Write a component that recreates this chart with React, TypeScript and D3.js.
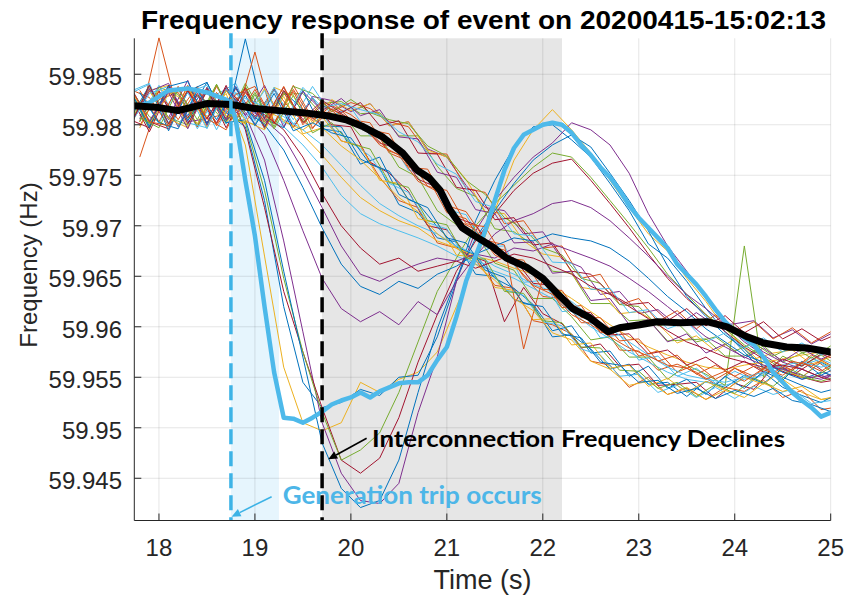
import React from "react";
import * as d3 from "d3";

const W = 851;
const H = 607;
const PLOT = { left: 134.3, right: 830.7, top: 38.3, bottom: 520.5 };
const X_DOMAIN = [17.743, 25];
const Y_DOMAIN = [59.94082, 59.98856];

const xTicks = [18, 19, 20, 21, 22, 23, 24, 25];
const yTicks = [59.945, 59.95, 59.955, 59.96, 59.965, 59.97, 59.975, 59.98, 59.985];
const yTickLabels = ["59.945", "59.95", "59.955", "59.96", "59.965", "59.97", "59.975", "59.98", "59.985"];

const TITLE = "Frequency response of event on 20200415-15:02:13";
const X_LABEL = "Time (s)";
const Y_LABEL = "Frequency (Hz)";

// shaded windows (s)
const tripWindow = [18.75, 19.25];
const declineWindow = [19.7, 22.2];
const tripTime = 18.75;
const declineTime = 19.7;

// two interleaved sampling grids of the PMU traces (s)
const TA = [17.7, 17.9, 18.1, 18.3, 18.5, 18.7, 18.9, 19.1, 19.3, 19.5, 19.7, 19.9, 20.1, 20.3, 20.5, 20.7, 20.9, 21.1, 21.3, 21.5, 21.7, 21.9, 22.1, 22.3, 22.5, 22.7, 22.9, 23.1, 23.3, 23.5, 23.7, 23.9, 24.1, 24.3, 24.5, 24.7, 24.9, 25.1];
const TB = [17.8, 18.0, 18.2, 18.4, 18.6, 18.8, 19.0, 19.2, 19.4, 19.6, 19.8, 20.0, 20.2, 20.4, 20.6, 20.8, 21.0, 21.2, 21.4, 21.6, 21.8, 22.0, 22.2, 22.4, 22.6, 22.8, 23.0, 23.2, 23.4, 23.6, 23.8, 24.0, 24.2, 24.4, 24.6, 24.8, 25.0, 25.2];

// early-dropping traces (grid TA)
const A1 = [59.9806, 59.9834, 59.9801, 59.9838, 59.9808, 59.9831, 59.978, 59.967, 59.956, 59.9505, 59.9497, 59.9505, 59.9545, 59.9535, 59.9548, 59.9555, 59.9575, 59.962, 59.9665, 59.9715, 59.9765, 59.9795, 59.9815, 59.9795, 59.9772, 59.9745, 59.9718, 59.9692, 59.9675, 59.9648, 59.9625, 59.9598, 59.958, 59.9562, 59.9548, 59.9535, 59.9528, 59.953];
const A2 = [59.9833, 59.9802, 59.9837, 59.9804, 59.9835, 59.9812, 59.9798, 59.9725, 59.962, 59.9545, 59.952, 59.9525, 59.9538, 59.9532, 59.955, 59.9552, 59.959, 59.9645, 59.9705, 59.9745, 59.9778, 59.9798, 59.98, 59.9785, 59.9768, 59.9742, 59.9715, 59.9682, 59.9668, 59.9645, 59.9618, 59.9595, 59.9575, 59.9555, 59.954, 59.9532, 59.9525, 59.9535];
const A3 = [59.9799, 59.9836, 59.9805, 59.9833, 59.9802, 59.9834, 59.981, 59.9765, 59.9685, 59.9595, 59.9505, 59.9455, 59.9428, 59.9425, 59.9445, 59.9515, 59.957, 59.9645, 59.9695, 59.9725, 59.9748, 59.9768, 59.9782, 59.9802, 59.9795, 59.978, 59.9752, 59.9712, 59.968, 59.9655, 59.9628, 59.9602, 59.9585, 59.9572, 59.956, 59.9548, 59.9552, 59.9545];
const A4 = [59.9837, 59.9803, 59.9796, 59.9834, 59.9801, 59.9839, 59.9795, 59.9718, 59.9635, 59.9575, 59.952, 59.9468, 59.9455, 59.947, 59.951, 59.9565, 59.9612, 59.9655, 59.9685, 59.9712, 59.9735, 59.9752, 59.9762, 59.9766, 59.9745, 59.9722, 59.9698, 59.9672, 59.9648, 59.9628, 59.9612, 59.9595, 59.958, 59.9568, 59.9555, 59.955, 59.9545, 59.9548];
const A5 = [59.9802, 59.9838, 59.9807, 59.98, 59.9836, 59.9808, 59.9802, 59.9735, 59.9648, 59.9575, 59.9515, 59.9468, 59.9478, 59.9495, 59.9535, 59.9585, 59.9635, 59.9668, 59.97, 59.9722, 59.974, 59.9758, 59.9772, 59.9768, 59.9748, 59.9725, 59.9702, 59.9678, 59.9652, 59.9632, 59.9612, 59.9598, 59.9582, 59.957, 59.9558, 59.955, 59.9546, 59.9552];
const A6 = [59.9834, 59.9799, 59.9839, 59.9804, 59.9833, 59.9802, 59.9805, 59.9745, 59.9655, 59.957, 59.9485, 59.944, 59.9421, 59.9428, 59.9468, 59.9535, 59.9598, 59.9648, 59.9688, 59.9715, 59.9742, 59.9765, 59.978, 59.979, 59.9778, 59.9752, 59.9725, 59.9695, 59.966, 59.963, 59.961, 59.9592, 59.9578, 59.956, 59.955, 59.9542, 59.9535, 59.954];
const A7 = [59.98, 59.9833, 59.9841, 59.9803, 59.9806, 59.9837, 59.9812, 59.979, 59.9745, 59.9695, 59.9648, 59.9618, 59.9605, 59.9615, 59.9602, 59.9625, 59.9612, 59.9645, 59.967, 59.9692, 59.9705, 59.9712, 59.9722, 59.9725, 59.9718, 59.9705, 59.9688, 59.967, 59.965, 59.9632, 59.9618, 59.9602, 59.9588, 59.9575, 59.9565, 59.9558, 59.955, 59.9555];
const A8 = [59.9835, 59.9797, 59.9838, 59.9843, 59.9801, 59.9834, 59.9815, 59.98, 59.9775, 59.9738, 59.9698, 59.9662, 59.964, 59.9632, 59.9645, 59.9638, 59.9652, 59.966, 59.9672, 59.968, 59.9688, 59.9685, 59.9692, 59.9688, 59.9685, 59.9678, 59.9665, 59.9648, 59.963, 59.9615, 59.9598, 59.9585, 59.9572, 59.9565, 59.9555, 59.9548, 59.9555, 59.955];
const A9 = [59.9838, 59.9804, 59.9832, 59.9796, 59.9837, 59.9805, 59.9818, 59.9805, 59.9788, 59.9755, 59.9718, 59.968, 59.9652, 59.9645, 59.9655, 59.9662, 59.9668, 59.9665, 59.9672, 59.9668, 59.9678, 59.9675, 59.9682, 59.9675, 59.9668, 59.966, 59.9648, 59.9635, 59.962, 59.9605, 59.959, 59.958, 59.957, 59.9562, 59.9558, 59.9552, 59.9548, 59.9555];
const A10 = [59.9799, 59.9839, 59.9801, 59.9834, 59.9806, 59.9837, 59.9817, 59.981, 59.9795, 59.9768, 59.9732, 59.97, 59.9678, 59.9662, 59.9668, 59.9655, 59.966, 59.9665, 59.9658, 59.9665, 59.9672, 59.9668, 59.966, 59.9652, 59.964, 59.9632, 59.962, 59.9608, 59.9596, 59.9585, 59.9578, 59.957, 59.9565, 59.956, 59.9562, 59.9558, 59.955, 59.9545];
// fanning traces (grid TA)
const F1 = [59.9833, 59.9841, 59.9798, 59.9832, 59.9839, 59.9801, 59.9822, 59.9812, 59.9798, 59.978, 59.9758, 59.973, 59.9712, 59.9702, 59.9695, 59.9688, 59.968, 59.967, 59.9662, 59.9655, 59.9648, 59.9638, 59.9628, 59.9615, 59.96, 59.9588, 59.9575, 59.9565, 59.9555, 59.9548, 59.9545, 59.9542, 59.9548, 59.9552, 59.956, 59.9562, 59.9568, 59.956];
const F2 = [59.9801, 59.9834, 59.9839, 59.9798, 59.9833, 59.9803, 59.982, 59.9815, 59.9805, 59.979, 59.977, 59.9748, 59.9728, 59.9715, 59.9705, 59.9698, 59.9685, 59.9678, 59.967, 59.9665, 59.9658, 59.9652, 59.964, 59.9628, 59.9615, 59.9602, 59.959, 59.958, 59.9572, 59.9565, 59.956, 59.9558, 59.9562, 59.9565, 59.9568, 59.9572, 59.9575, 59.9568];
const F3 = [59.98, 59.9831, 59.9838, 59.9802, 59.9797, 59.9836, 59.9826, 59.9818, 59.9808, 59.9795, 59.978, 59.976, 59.974, 59.9722, 59.971, 59.97, 59.9692, 59.968, 59.9672, 59.966, 59.9652, 59.9642, 59.9635, 59.9625, 59.961, 59.9598, 59.9585, 59.9572, 59.956, 59.9552, 59.9548, 59.9545, 59.955, 59.9555, 59.9562, 59.9565, 59.956, 59.9565];
// main band of traces (odd on grid TA, even on grid TB)
const B1 = [59.9831, 59.9801, 59.9836, 59.9809, 59.9842, 59.9804, 59.9829, 59.9797, 59.9833, 59.9815, 59.9799, 59.9798, 59.9766, 59.9757, 59.9721, 59.9713, 59.9688, 59.9684, 59.9652, 59.965, 59.9627, 59.9621, 59.959, 59.9592, 59.9578, 59.9558, 59.9563, 59.9543, 59.9545, 59.9531, 59.9546, 59.954, 59.9552, 59.9544, 59.9559, 59.955, 59.9565, 59.9555];
const B2 = [59.9803, 59.9886, 59.9812, 59.9838, 59.9799, 59.9827, 59.9806, 59.9835, 59.9812, 59.9796, 59.9823, 59.9805, 59.9802, 59.9772, 59.9764, 59.9748, 59.9713, 59.9707, 59.968, 59.9676, 59.965, 59.963, 59.9628, 59.9604, 59.9604, 59.9577, 59.9576, 59.9557, 59.9563, 59.9555, 59.9543, 59.9559, 59.9548, 59.9562, 59.9557, 59.957, 59.9556, 59.9569];
const B3 = [59.9836, 59.9808, 59.9798, 59.9834, 59.9823, 59.9801, 59.9841, 59.9807, 59.9832, 59.9803, 59.9821, 59.9823, 59.9811, 59.9812, 59.9789, 59.9789, 59.9759, 59.9737, 59.9729, 59.9697, 59.9694, 59.9681, 59.9655, 59.9653, 59.9623, 59.9623, 59.9606, 59.9607, 59.9586, 59.9587, 59.9588, 59.9571, 59.9571, 59.9581, 59.9565, 59.9574, 59.9579, 59.9564];
const B4 = [59.9809, 59.9834, 59.9798, 59.9829, 59.9802, 59.9838, 59.9805, 59.9836, 59.9797, 59.9828, 59.9824, 59.9813, 59.9821, 59.9799, 59.9803, 59.9776, 59.9768, 59.974, 59.9718, 59.9715, 59.9692, 59.9694, 59.9667, 59.9659, 59.9632, 59.9635, 59.9613, 59.9617, 59.9601, 59.9614, 59.9601, 59.9603, 59.9606, 59.9589, 59.9597, 59.9583, 59.9593, 59.9592];
const B5 = [59.9835, 59.9827, 59.9799, 59.9839, 59.9806, 59.9811, 59.9837, 59.9796, 59.9831, 59.9808, 59.9812, 59.9784, 59.9779, 59.9748, 59.9725, 59.9718, 59.9683, 59.9678, 59.9666, 59.9641, 59.9638, 59.9606, 59.9602, 59.9593, 59.9566, 59.9562, 59.954, 59.955, 59.9533, 59.9539, 59.9528, 59.954, 59.9536, 59.9547, 59.953, 59.9537, 59.9518, 59.9521];
const B6 = [59.9806, 59.9833, 59.9799, 59.9831, 59.9801, 59.9836, 59.9808, 59.9835, 59.9797, 59.9826, 59.98, 59.9798, 59.9763, 59.9752, 59.9734, 59.97, 59.9696, 59.9672, 59.9665, 59.9605, 59.9639, 59.9613, 59.9603, 59.9579, 59.9583, 59.9561, 59.9563, 59.9542, 59.9543, 59.9545, 59.9529, 59.9544, 59.9538, 59.956, 59.9552, 59.9564, 59.9551, 59.9562];
const B7 = [59.9833, 59.9796, 59.9837, 59.9806, 59.9834, 59.9803, 59.9838, 59.9801, 59.983, 59.9831, 59.981, 59.9811, 59.9789, 59.9789, 59.9758, 59.9748, 59.9715, 59.9701, 59.9693, 59.9663, 59.9656, 59.9628, 59.9628, 59.961, 59.9587, 59.959, 59.957, 59.957, 59.9548, 59.9562, 59.9553, 59.9542, 59.968, 59.955, 59.9571, 59.9561, 59.9572, 59.956];
const B8 = [59.9797, 59.9835, 59.9828, 59.9801, 59.9839, 59.9806, 59.98, 59.9837, 59.9829, 59.9802, 59.9825, 59.9814, 59.9821, 59.9799, 59.9803, 59.9775, 59.9768, 59.9746, 59.9714, 59.9712, 59.9685, 59.9672, 59.9669, 59.9639, 59.9636, 59.9613, 59.9615, 59.9603, 59.9584, 59.9591, 59.9576, 59.9588, 59.9568, 59.9574, 59.9577, 59.9563, 59.957, 59.958];
const B9 = [59.9806, 59.9839, 59.9794, 59.9833, 59.9842, 59.9802, 59.9885, 59.9806, 59.9797, 59.9834, 59.9796, 59.9793, 59.9761, 59.9768, 59.9731, 59.9722, 59.9699, 59.9679, 59.9671, 59.9648, 59.9638, 59.9622, 59.9596, 59.9601, 59.9574, 59.9576, 59.9551, 59.9561, 59.9539, 59.9548, 59.9533, 59.9551, 59.9539, 59.9556, 59.9547, 59.9566, 59.9552, 59.9561];
const B10 = [59.9832, 59.9801, 59.9837, 59.9796, 59.983, 59.9841, 59.98, 59.9834, 59.9805, 59.9838, 59.9809, 59.9817, 59.9789, 59.9786, 59.9755, 59.9751, 59.9716, 59.9711, 59.9679, 59.968, 59.9644, 59.9646, 59.9615, 59.9617, 59.9589, 59.9592, 59.9567, 59.9571, 59.9551, 59.9559, 59.9544, 59.9556, 59.9547, 59.9562, 59.9553, 59.957, 59.9558, 59.9571];
const B11 = [59.9801, 59.9835, 59.9807, 59.9844, 59.9799, 59.9836, 59.9809, 59.9839, 59.9798, 59.9833, 59.9814, 59.9826, 59.9809, 59.9815, 59.9788, 59.9786, 59.9753, 59.9748, 59.9716, 59.9712, 59.9683, 59.9684, 59.9653, 59.9655, 59.9626, 59.9628, 59.9602, 59.9607, 59.9585, 59.9593, 59.9574, 59.9583, 59.9569, 59.9579, 59.9566, 59.9578, 59.9568, 59.9576];
const B12 = [59.9768, 59.9825, 59.9832, 59.9798, 59.9838, 59.9805, 59.9835, 59.9801, 59.9839, 59.9806, 59.9813, 59.9822, 59.9816, 59.9803, 59.9798, 59.9772, 59.9771, 59.9737, 59.9733, 59.9702, 59.9705, 59.9678, 59.968, 59.9648, 59.9652, 59.9622, 59.9628, 59.9605, 59.9616, 59.9598, 59.9612, 59.9596, 59.9605, 59.9588, 59.9599, 59.9584, 59.9595, 59.9588];
const B13 = [59.9829, 59.9793, 59.9834, 59.9807, 59.9836, 59.9797, 59.9833, 59.9806, 59.9837, 59.9802, 59.9819, 59.9811, 59.9799, 59.9782, 59.9776, 59.9746, 59.9738, 59.9708, 59.9701, 59.9673, 59.9668, 59.9643, 59.9641, 59.9616, 59.9614, 59.9592, 59.9593, 59.9573, 59.9577, 59.9562, 59.957, 59.9557, 59.9566, 59.9555, 59.9568, 59.9561, 59.9573, 59.9566];
const B14 = [59.9806, 59.9839, 59.9799, 59.9834, 59.9795, 59.9832, 59.9804, 59.9837, 59.98, 59.9827, 59.9797, 59.9783, 59.9769, 59.9742, 59.9733, 59.9703, 59.9697, 59.9667, 59.9662, 59.9637, 59.9631, 59.9605, 59.9601, 59.9578, 59.9572, 59.9551, 59.9553, 59.9535, 59.9542, 59.953, 59.954, 59.9529, 59.9541, 59.9533, 59.9538, 59.9524, 59.9527, 59.9512];
const B15 = [59.9799, 59.9834, 59.9806, 59.9797, 59.9837, 59.9809, 59.9801, 59.9836, 59.9803, 59.9795, 59.9808, 59.9784, 59.9779, 59.9745, 59.9742, 59.9707, 59.9703, 59.9671, 59.9669, 59.9639, 59.9636, 59.9607, 59.9608, 59.9582, 59.9584, 59.9559, 59.9562, 59.9541, 59.9549, 59.9535, 59.9546, 59.9537, 59.955, 59.9543, 59.9558, 59.955, 59.9566, 59.9556];
const B16 = [59.9834, 59.9803, 59.9838, 59.9798, 59.9832, 59.9805, 59.9872, 59.9801, 59.9835, 59.9804, 59.9819, 59.981, 59.9795, 59.9791, 59.9758, 59.9756, 59.972, 59.9714, 59.9686, 59.9681, 59.9578, 59.9648, 59.9619, 59.9621, 59.9594, 59.9596, 59.9571, 59.9576, 59.9555, 59.9563, 59.9548, 59.9559, 59.9551, 59.9566, 59.9557, 59.9572, 59.9562, 59.9576];
const B17 = [59.9805, 59.9797, 59.9839, 59.9801, 59.9833, 59.9806, 59.9836, 59.9798, 59.9834, 59.9805, 59.9824, 59.9812, 59.9822, 59.9799, 59.9804, 59.9772, 59.9771, 59.9738, 59.9735, 59.9706, 59.9708, 59.9681, 59.9683, 59.9655, 59.9652, 59.9633, 59.9622, 59.9624, 59.9606, 59.9618, 59.9601, 59.9611, 59.9594, 59.9605, 59.9588, 59.9598, 59.9586, 59.9594];
const B18 = [59.9803, 59.9837, 59.983, 59.9799, 59.984, 59.9804, 59.9832, 59.9798, 59.9838, 59.9831, 59.9813, 59.9825, 59.9812, 59.9805, 59.9801, 59.9779, 59.9769, 59.9745, 59.9731, 59.9708, 59.9697, 59.9678, 59.9671, 59.9648, 59.9643, 59.9622, 59.962, 59.9601, 59.9604, 59.9585, 59.959, 59.9576, 59.9584, 59.9571, 59.958, 59.9569, 59.9581, 59.9573];
const B19 = [59.9836, 59.9801, 59.983, 59.9838, 59.9797, 59.9834, 59.9804, 59.9795, 59.9828, 59.9791, 59.9797, 59.9779, 59.9765, 59.9747, 59.9728, 59.9714, 59.9692, 59.9678, 59.9662, 59.9646, 59.9628, 59.9616, 59.9594, 59.9587, 59.9566, 59.9558, 59.9542, 59.9546, 59.9533, 59.954, 59.9528, 59.9537, 59.953, 59.9544, 59.9536, 59.9541, 59.9528, 59.9532];
const B20 = [59.9799, 59.9833, 59.9805, 59.9836, 59.9801, 59.983, 59.9838, 59.9802, 59.9833, 59.9797, 59.9816, 59.9803, 59.9792, 59.9774, 59.9767, 59.9739, 59.9735, 59.9702, 59.9699, 59.9668, 59.9666, 59.9637, 59.9636, 59.9609, 59.9609, 59.9586, 59.9588, 59.9566, 59.9572, 59.9553, 59.9562, 59.9551, 59.9561, 59.9554, 59.9566, 59.9561, 59.9572, 59.9565];
const B21 = [59.9831, 59.984, 59.9802, 59.9832, 59.9796, 59.9837, 59.9806, 59.9834, 59.9801, 59.9837, 59.9817, 59.9821, 59.9815, 59.981, 59.9793, 59.9783, 59.9761, 59.9751, 59.9724, 59.9718, 59.9692, 59.969, 59.9664, 59.9663, 59.9637, 59.9638, 59.9614, 59.9617, 59.9598, 59.9605, 59.9585, 59.9594, 59.9579, 59.9589, 59.9575, 59.9584, 59.9572, 59.9583];
const B22 = [59.9807, 59.9797, 59.9835, 59.9805, 59.984, 59.98, 59.983, 59.9796, 59.9829, 59.9792, 59.9802, 59.9781, 59.9776, 59.9743, 59.9738, 59.9705, 59.9701, 59.9668, 59.9667, 59.9635, 59.9633, 59.9606, 59.9604, 59.958, 59.9579, 59.9557, 59.9556, 59.9539, 59.9545, 59.9531, 59.9543, 59.9534, 59.9549, 59.9541, 59.9557, 59.9548, 59.956, 59.9553];
const B23 = [59.9838, 59.9803, 59.9799, 59.9835, 59.9806, 59.9795, 59.9832, 59.9803, 59.9838, 59.98, 59.9823, 59.9806, 59.9802, 59.978, 59.977, 59.9744, 59.9734, 59.9706, 59.9696, 59.9671, 59.9662, 59.9641, 59.9632, 59.9612, 59.9602, 59.959, 59.9579, 59.9571, 59.9562, 59.9559, 59.9548, 59.9556, 59.9546, 59.9559, 59.9552, 59.9565, 59.9556, 59.9568];
const B24 = [59.9832, 59.9802, 59.9796, 59.9834, 59.9805, 59.9837, 59.9799, 59.9831, 59.9794, 59.9802, 59.9792, 59.9787, 59.9761, 59.9754, 59.9726, 59.9718, 59.9688, 59.9683, 59.9656, 59.9649, 59.9623, 59.962, 59.9593, 59.9589, 59.9565, 59.9562, 59.9545, 59.9547, 59.9534, 59.9539, 59.9529, 59.9537, 59.9531, 59.9539, 59.9527, 59.9523, 59.9516, 59.9509];

const THIN_SERIES: { t: number[]; v: number[] }[] = [
  { t: TA, v: B1 }, { t: TB, v: B2 }, { t: TA, v: A1 }, { t: TB, v: B4 }, { t: TA, v: B3 },
  { t: TA, v: F1 }, { t: TB, v: B6 }, { t: TA, v: A2 }, { t: TA, v: B5 }, { t: TB, v: B8 },
  { t: TA, v: A3 }, { t: TA, v: B7 }, { t: TB, v: B10 }, { t: TA, v: A4 }, { t: TA, v: B9 },
  { t: TB, v: B12 }, { t: TA, v: F2 }, { t: TA, v: B11 }, { t: TA, v: A5 }, { t: TB, v: B14 },
  { t: TA, v: B13 }, { t: TA, v: A6 }, { t: TB, v: B16 }, { t: TA, v: B15 }, { t: TA, v: A7 },
  { t: TB, v: B18 }, { t: TA, v: F3 }, { t: TA, v: B17 }, { t: TA, v: A8 }, { t: TB, v: B20 },
  { t: TA, v: B19 }, { t: TA, v: A9 }, { t: TB, v: B22 }, { t: TA, v: B21 }, { t: TA, v: A10 },
  { t: TB, v: B24 }, { t: TA, v: B23 },
];
const MATLAB_COLORS = ["#0072BD", "#D95319", "#EDB120", "#7E2F8E", "#77AC30", "#4DBEEE", "#A2142F"];

// highlighted (thick light-blue) trace
const BLUE_T = [17.7, 17.9, 18.1, 18.3, 18.5, 18.7, 18.75, 18.8, 18.9, 19.0, 19.1, 19.2, 19.3, 19.4, 19.5, 19.6, 19.7, 19.8, 19.9, 20.0, 20.1, 20.2, 20.3, 20.4, 20.5, 20.6, 20.7, 20.8, 20.9, 21.0, 21.1, 21.2, 21.3, 21.4, 21.5, 21.6, 21.7, 21.8, 21.9, 22.0, 22.1, 22.2, 22.3, 22.4, 22.5, 22.6, 22.7, 22.8, 22.9, 23.0, 23.1, 23.2, 23.3, 23.4, 23.5, 23.6, 23.7, 23.8, 23.9, 24.0, 24.1, 24.2, 24.3, 24.4, 24.5, 24.6, 24.7, 24.8, 24.9, 25.0, 25.1];
const BLUE_V = [59.9816, 59.9822, 59.9834, 59.9836, 59.9832, 59.9825, 59.982, 59.9805, 59.9745, 59.969, 59.962, 59.9555, 59.951, 59.9509, 59.9505, 59.951, 59.9516, 59.9523, 59.9527, 59.953, 59.9535, 59.953, 59.9536, 59.954, 59.9544, 59.9545, 59.9545, 59.9552, 59.9567, 59.958, 59.961, 59.9645, 59.967, 59.9695, 59.9725, 59.9755, 59.9777, 59.979, 59.9795, 59.98, 59.9802, 59.98, 59.9792, 59.978, 59.977, 59.9758, 59.9748, 59.9735, 59.972, 59.9708, 59.9698, 59.9688, 59.9678, 59.9662, 59.9652, 59.9642, 59.963, 59.9617, 59.9605, 59.9596, 59.9589, 59.9582, 59.957, 59.9555, 59.9545, 59.9535, 59.9527, 59.952, 59.9511, 59.9515, 59.9518];

// mean (thick black) trace
const MEAN_T = [17.7, 18.0, 18.2, 18.5, 18.75, 19.0, 19.25, 19.5, 19.75, 19.95, 20.13, 20.33, 20.54, 20.69, 20.82, 20.93, 21.03, 21.16, 21.29, 21.48, 21.62, 21.83, 22.0, 22.15, 22.31, 22.49, 22.68, 22.8, 23.01, 23.19, 23.43, 23.71, 23.92, 24.13, 24.3, 24.54, 24.75, 25.0, 25.1];
const MEAN_V = [59.9819, 59.9817, 59.9814, 59.9821, 59.982, 59.9816, 59.9814, 59.9812, 59.9809, 59.9805, 59.9798, 59.9788, 59.9772, 59.9755, 59.9747, 59.9735, 59.9716, 59.9698, 59.969, 59.9679, 59.9668, 59.9659, 59.9648, 59.9633, 59.9618, 59.9609, 59.9595, 59.9599, 59.9602, 59.9605, 59.9604, 59.9605, 59.96, 59.959, 59.9584, 59.958, 59.9579, 59.9575, 59.9574];

// annotations (data units)
const NOTE_DECLINE = { text: "Interconnection Frequency Declines", t: 20.22, v: 59.9481, from: [20.164, 59.94896], to: [19.764, 59.94688] };
const NOTE_TRIP = { text: "Generation trip occurs", t: 19.29, v: 59.9425, from: [19.174, 59.94318], to: [18.757, 59.9412] };

function Arrow({ x1, y1, x2, y2, color }: { x1: number; y1: number; x2: number; y2: number; color: string }) {
  const ang = Math.atan2(y2 - y1, x2 - x1);
  const L = 9;
  const Wd = 4;
  const bx = x2 - L * Math.cos(ang);
  const by = y2 - L * Math.sin(ang);
  const px = -Math.sin(ang) * Wd;
  const py = Math.cos(ang) * Wd;
  return (
    <g>
      <line x1={x1} y1={y1} x2={bx} y2={by} stroke={color} strokeWidth={1.6} />
      <polygon points={`${x2},${y2} ${bx + px},${by + py} ${bx - px},${by - py}`} fill={color} />
    </g>
  );
}

export default function App() {
  const x = d3.scaleLinear().domain(X_DOMAIN).range([PLOT.left, PLOT.right]);
  const y = d3.scaleLinear().domain(Y_DOMAIN).range([PLOT.bottom, PLOT.top]);
  const lineXY = d3
    .line<[number, number]>()
    .x((d) => x(d[0]))
    .y((d) => y(d[1]));
  const blue = lineXY(BLUE_T.map((t, i) => [t, BLUE_V[i]]));
  const mean = lineXY(MEAN_T.map((t, i) => [t, MEAN_V[i]]));
  const axisColor = "#262626";
  const tickFont = "'Liberation Sans', Arial, sans-serif";
  const noteFont = "Lato, 'Open Sans', sans-serif";

  return (
    <svg width={W} height={H} style={{ position: "absolute", left: 0, top: 0, background: "#fff" }}>
      <defs>
        <clipPath id="plotclip">
          <rect x={PLOT.left} y={PLOT.top - 2} width={PLOT.right - PLOT.left} height={PLOT.bottom - PLOT.top + 2} />
        </clipPath>
      </defs>
      <rect x={0} y={0} width={W} height={H} fill="#fff" />
      {/* shaded windows */}
      <rect x={x(tripWindow[0])} y={PLOT.top} width={x(tripWindow[1]) - x(tripWindow[0])} height={PLOT.bottom - PLOT.top} fill="#e6f5fd" />
      <rect x={x(declineWindow[0])} y={PLOT.top} width={x(declineWindow[1]) - x(declineWindow[0])} height={PLOT.bottom - PLOT.top} fill="#e6e6e6" />
      {/* grid */}
      {xTicks.map((t) => (
        <line key={"gx" + t} x1={x(t)} x2={x(t)} y1={PLOT.top} y2={PLOT.bottom} stroke="#000" strokeOpacity={0.1} />
      ))}
      {yTicks.map((v) => (
        <line key={"gy" + v} x1={PLOT.left} x2={PLOT.right} y1={y(v)} y2={y(v)} stroke="#000" strokeOpacity={0.1} />
      ))}
      {/* traces */}
      <g clipPath="url(#plotclip)" fill="none">
        {THIN_SERIES.map((s, i) => (
          <path
            key={"s" + i}
            d={lineXY(s.t.map((t, j) => [t, s.v[j]] as [number, number])) || ""}
            stroke={MATLAB_COLORS[i % MATLAB_COLORS.length]}
            strokeWidth={1}
            strokeLinejoin="round"
          />
        ))}
        <path d={blue || ""} stroke="#4db9ea" strokeWidth={4.5} strokeLinejoin="round" />
        <path d={mean || ""} stroke="#000" strokeWidth={7} strokeLinejoin="round" strokeLinecap="round" />
      </g>
      {/* event markers */}
      <line x1={x(tripTime)} x2={x(tripTime)} y1={PLOT.top - 5} y2={PLOT.bottom} stroke="#3db3e6" strokeWidth={3.5} strokeDasharray="15 7" />
      <line x1={x(declineTime)} x2={x(declineTime)} y1={PLOT.top - 5} y2={PLOT.bottom} stroke="#000" strokeWidth={3.5} strokeDasharray="15 7" />
      {/* axes */}
      <line x1={PLOT.left} x2={PLOT.left} y1={PLOT.top} y2={PLOT.bottom} stroke={axisColor} strokeWidth={1} />
      <line x1={PLOT.left} x2={PLOT.right} y1={PLOT.bottom} y2={PLOT.bottom} stroke={axisColor} strokeWidth={1} />
      {xTicks.map((t) => (
        <g key={"xt" + t}>
          <line x1={x(t)} x2={x(t)} y1={PLOT.bottom} y2={PLOT.bottom - 7} stroke={axisColor} />
          <text x={x(t)} y={556} textAnchor="middle" fontFamily={tickFont} fontSize={24} fill="#262626">
            {t}
          </text>
        </g>
      ))}
      {yTicks.map((v, i) => (
        <g key={"yt" + v}>
          <line x1={PLOT.left} x2={PLOT.left + 7} y1={y(v)} y2={y(v)} stroke={axisColor} />
          <text x={122} y={y(v) + 11} textAnchor="end" fontFamily={tickFont} fontSize={24} fill="#262626">
            {yTickLabels[i]}
          </text>
        </g>
      ))}
      {/* labels */}
      <text x={(PLOT.left + PLOT.right) / 2} y={589} textAnchor="middle" fontFamily={tickFont} fontSize={27} fill="#262626">
        {X_LABEL}
      </text>
      <text transform={`translate(37, 265) rotate(-90)`} textAnchor="middle" fontFamily={tickFont} fontSize={24} fill="#262626">
        {Y_LABEL}
      </text>
      <text x={141} y={29} fontFamily={tickFont} fontWeight="bold" fontSize={26} textLength={685} lengthAdjust="spacingAndGlyphs" fill="#000">
        {TITLE}
      </text>
      {/* annotations */}
      <Arrow x1={x(NOTE_DECLINE.from[0])} y1={y(NOTE_DECLINE.from[1])} x2={x(NOTE_DECLINE.to[0])} y2={y(NOTE_DECLINE.to[1])} color="#000" />
      <text x={x(NOTE_DECLINE.t)} y={y(NOTE_DECLINE.v)} fontFamily={noteFont} fontWeight="bold" fontSize={23} textLength={413} lengthAdjust="spacingAndGlyphs" fill="#000">
        {NOTE_DECLINE.text}
      </text>
      <Arrow x1={x(NOTE_TRIP.from[0])} y1={y(NOTE_TRIP.from[1])} x2={x(NOTE_TRIP.to[0])} y2={y(NOTE_TRIP.to[1])} color="#3db3e6" />
      <text x={x(NOTE_TRIP.t)} y={y(NOTE_TRIP.v)} fontFamily={noteFont} fontWeight="bold" fontSize={24} textLength={259} lengthAdjust="spacingAndGlyphs" fill="#4db6e8">
        {NOTE_TRIP.text}
      </text>
    </svg>
  );
}
